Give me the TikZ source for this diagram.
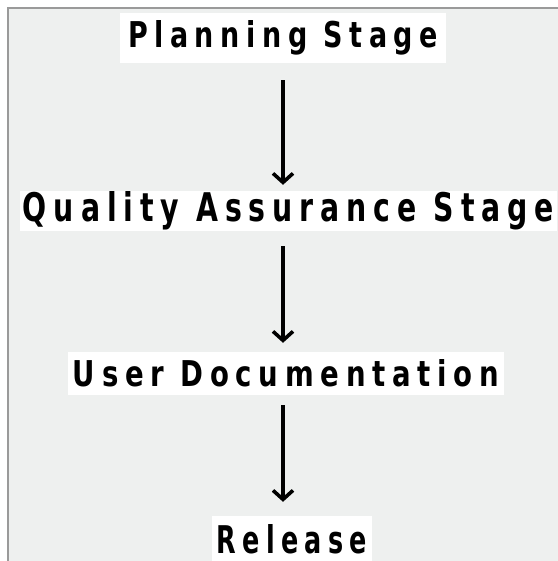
\documentclass[tikz,border=0pt]{standalone}
\usepackage{fontspec}
\setmainfont{DejaVu Sans Condensed}[LetterSpace=22]
\usetikzlibrary{arrows.meta}
\definecolor{bgc}{HTML}{EEF0EF}
\definecolor{bordc}{HTML}{9A9A9A}
\newcommand{\fittext}[3]{\resizebox{#1pt}{#2pt}{\bfseries #3}}
\tikzset{
  lbl/.style={fill=white, inner sep=0pt, text=black},
  arr/.style={line width=3.6pt, -{Straight Barb[length=9pt,width=20pt]}}
}
\begin{document}
\begin{tikzpicture}[x=1pt,y=-1pt]
\fill[white] (0,0) rectangle (557,561);
\useasboundingbox (0,0) rectangle (557,561);
\fill[bgc] (8,8) rectangle (562,565);
\draw[bordc, line width=1.5pt] (8,566) -- (8,8) -- (562,8);

\node[lbl, minimum width=326pt, minimum height=50pt] (p) at (283,38) {\fittext{310}{27}{Planning Stage}};
\node[lbl, minimum width=537pt, minimum height=40pt] (q) at (288.5,211) {\fittext{531}{30}{Quality Assurance Stage}};
\node[lbl, minimum width=436pt, minimum height=43pt] (u) at (286,373.5) {\fittext{426}{27}{User Documentation}};
\node[lbl, minimum width=160pt, minimum height=46pt] (r) at (292,539) {\fittext{150}{29}{Release}};

\draw[arr, shorten <=17pt, shorten >=6pt] (p.south) -- (p.south |- q.north);
\draw[arr, shorten <=15pt, shorten >=9pt] (p.south |- q.south) -- (p.south |- u.north);
\draw[arr, shorten <=10pt, shorten >=14pt] (p.south |- u.south) -- (p.south |- r.north);
\end{tikzpicture}
\end{document}
